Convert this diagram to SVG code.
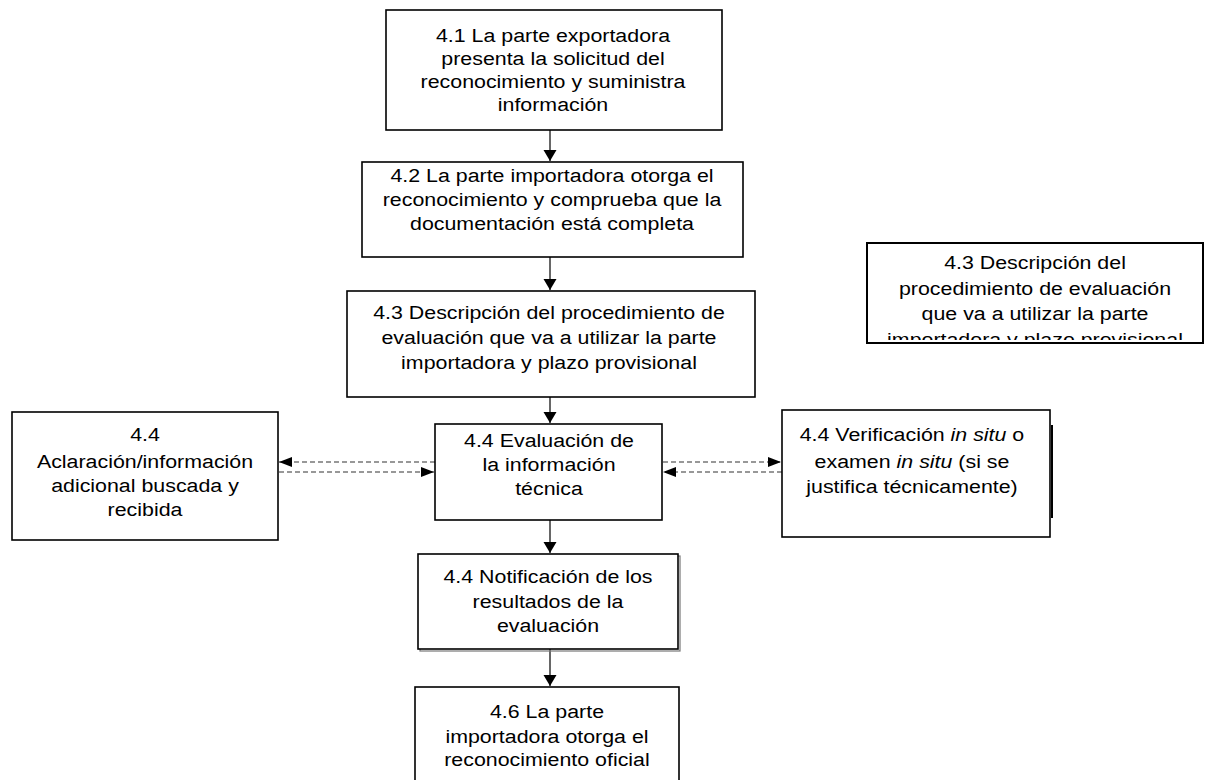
<svg xmlns="http://www.w3.org/2000/svg" width="1206" height="780" viewBox="0 0 1206 780">
<style>
.box{fill:#fff;stroke:#000;stroke-width:1.6}
.t{font-family:"Liberation Sans",Arial,sans-serif;font-size:19px;fill:#000;text-anchor:middle}
.i{font-style:italic}
.c{stroke:#000;stroke-width:1.2;fill:none}
.d{stroke:#333;stroke-width:1.1;fill:none;stroke-dasharray:5 3}
</style>
<defs>
<marker id="ah" markerWidth="12" markerHeight="14" refX="11" refY="6.5" orient="auto" markerUnits="userSpaceOnUse">
<path d="M0,0 L11,6.5 L0,13 Z" fill="#000"/>
</marker>
<marker id="ahd" markerWidth="14" markerHeight="12" refX="13" refY="5" orient="auto" markerUnits="userSpaceOnUse">
<path d="M0,0 L13,5 L0,10 Z" fill="#000"/>
</marker>
<clipPath id="clipTR"><rect x="867" y="243" width="336" height="97"/></clipPath>
</defs>
<rect width="1206" height="780" fill="#fff"/>

<g id="connectors">
<line class="c" x1="550" y1="130" x2="550" y2="161" marker-end="url(#ah)"/>
<line class="c" x1="550" y1="257" x2="550" y2="290" marker-end="url(#ah)"/>
<line class="c" x1="550" y1="397" x2="550" y2="423" marker-end="url(#ah)"/>
<line class="c" x1="550" y1="520" x2="550" y2="553" marker-end="url(#ah)"/>
<line class="c" x1="550" y1="649" x2="550" y2="686" marker-end="url(#ah)"/>
<line class="d" x1="435" y1="462" x2="279" y2="462" marker-end="url(#ahd)"/>
<line class="d" x1="279" y1="472" x2="434" y2="472" marker-end="url(#ahd)"/>
<line class="d" x1="663" y1="462" x2="781" y2="462" marker-end="url(#ahd)"/>
<line class="d" x1="782" y1="472" x2="663" y2="472" marker-end="url(#ahd)"/>
</g>

<g id="n41">
<rect class="box" x="386" y="10" width="336" height="120"/>
<text class="t" transform="translate(553,0) scale(1.125,1)"><tspan x="0" y="42">4.1 La parte exportadora</tspan><tspan x="0" y="65">presenta la solicitud del</tspan><tspan x="0" y="88">reconocimiento y suministra</tspan><tspan x="0" y="111">información</tspan></text>
</g>

<g id="n42">
<rect class="box" x="362" y="162" width="381" height="95"/>
<text class="t" transform="translate(552,0) scale(1.125,1)"><tspan x="0" y="182">4.2 La parte importadora otorga el</tspan><tspan x="0" y="206">reconocimiento y comprueba que la</tspan><tspan x="0" y="230">documentación está completa</tspan></text>
</g>

<g id="n43">
<rect class="box" x="347" y="291" width="408" height="106"/>
<text class="t" transform="translate(549,0) scale(1.125,1)"><tspan x="0" y="319">4.3 Descripción del procedimiento de</tspan><tspan x="0" y="344">evaluación que va a utilizar la parte</tspan><tspan x="0" y="369">importadora y plazo provisional</tspan></text>
</g>

<g id="n43b">
<rect class="box" x="867" y="243" width="336" height="100" style="stroke-width:2"/>
<g clip-path="url(#clipTR)">
<text class="t" transform="translate(1035,0) scale(1.125,1)"><tspan x="0" y="269">4.3 Descripción del</tspan><tspan x="0" y="295">procedimiento de evaluación</tspan><tspan x="0" y="320">que va a utilizar la parte</tspan><tspan x="0" y="346">importadora y plazo provisional</tspan></text>
</g>
</g>

<g id="n44a">
<rect class="box" x="12" y="412" width="266" height="128"/>
<text class="t" transform="translate(145,0) scale(1.125,1)"><tspan x="0" y="441">4.4</tspan><tspan x="0" y="468">Aclaración/información</tspan><tspan x="0" y="492">adicional buscada y</tspan><tspan x="0" y="516">recibida</tspan></text>
</g>

<g id="n44e">
<rect class="box" x="435" y="424" width="227" height="96"/>
<text class="t" transform="translate(549,0) scale(1.125,1)"><tspan x="0" y="447">4.4 Evaluación de</tspan><tspan x="0" y="471">la información</tspan><tspan x="0" y="495">técnica</tspan></text>
</g>

<g id="n44v">
<rect class="box" x="782" y="410" width="268" height="127"/>
<line x1="1052" y1="425" x2="1052" y2="518" stroke="#000" stroke-width="2"/>
<text class="t" transform="translate(912,0) scale(1.125,1)"><tspan x="0" y="441">4.4 Verificación <tspan class="i">in situ</tspan> o</tspan><tspan x="0" y="468">examen <tspan class="i">in situ</tspan> (si se</tspan><tspan x="0" y="493">justifica técnicamente)</tspan></text>
</g>

<g id="n44n">
<rect x="420" y="556" width="260" height="95" fill="none" stroke="#777" stroke-width="1.2"/>
<rect class="box" x="418" y="554" width="260" height="95"/>
<text class="t" transform="translate(548,0) scale(1.125,1)"><tspan x="0" y="583">4.4 Notificación de los</tspan><tspan x="0" y="608">resultados de la</tspan><tspan x="0" y="632">evaluación</tspan></text>
</g>

<g id="n46">
<rect class="box" x="415" y="687" width="264" height="110"/>
<text class="t" transform="translate(547,0) scale(1.125,1)"><tspan x="0" y="718">4.6 La parte</tspan><tspan x="0" y="743">importadora otorga el</tspan><tspan x="0" y="766">reconocimiento oficial</tspan></text>
</g>
</svg>
